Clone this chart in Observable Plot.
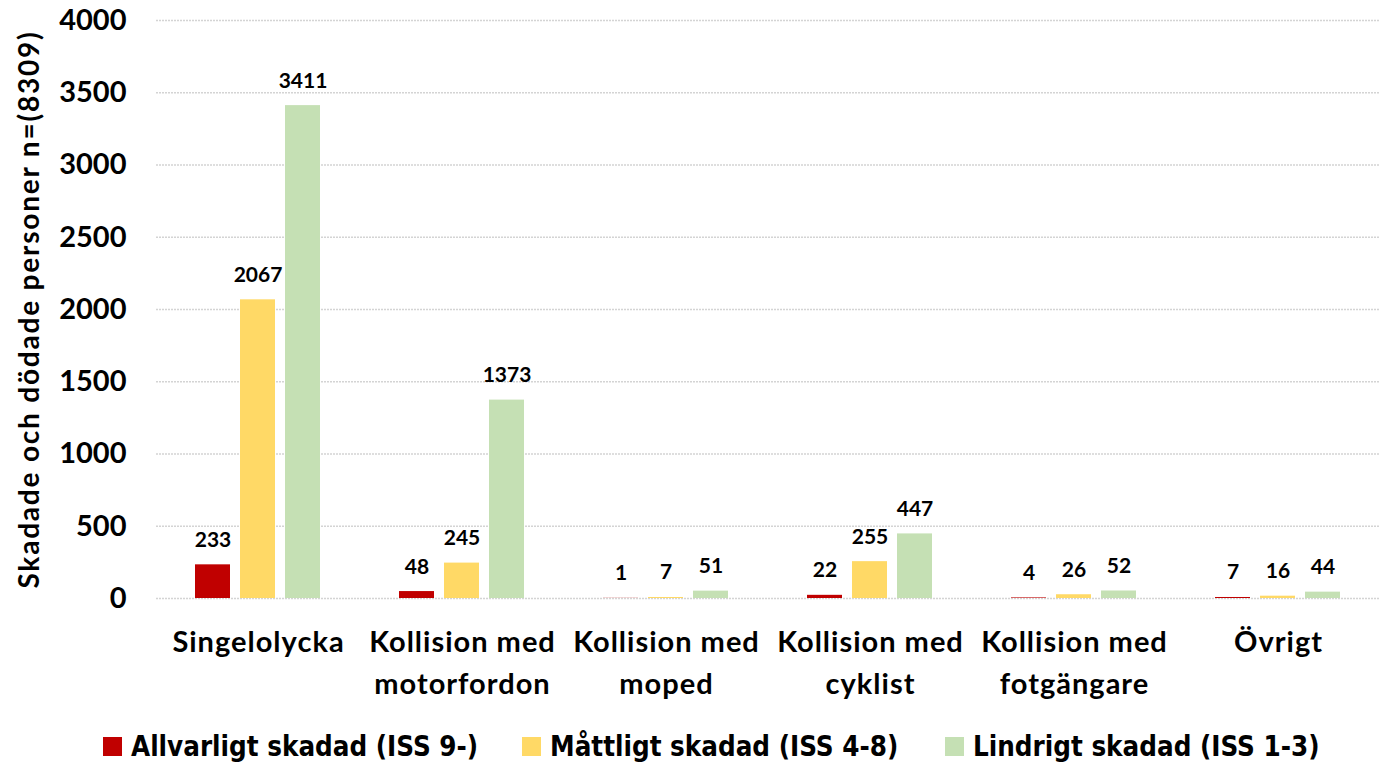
<!DOCTYPE html>
<html>
<head>
<meta charset="utf-8">
<script src="https://cdn.jsdelivr.net/npm/d3@7"></script>
<script src="https://cdn.jsdelivr.net/npm/@observablehq/plot@0.6"></script>
<style>
  body { margin: 0; background: #fff; overflow: hidden; }
  #legend { position: relative; height: 44px;
    font-family: "DejaVu Sans Condensed", "Liberation Sans Narrow", sans-serif; font-weight: bold; font-size: 27.5px; color: #000; }
  .item { position: absolute; top: 10px; display: flex; align-items: center; white-space: nowrap; }
  .sw { width: 19px; height: 19px; margin-right: 9px; display: inline-block; }
  g[aria-label="y-axis label"] text { letter-spacing: 1.8px; }
  g[aria-label="fx-axis tick label"] text { letter-spacing: 1px; }
</style>
</head>
<body>
<div id="chart"></div>
<div id="legend"></div>
<script>
const categories = ["Singelolycka", "Kollision med motorfordon", "Kollision med moped", "Kollision med cyklist", "Kollision med fotgängare", "Övrigt"];
const categoryLabels = ["Singelolycka", "Kollision med\nmotorfordon", "Kollision med\nmoped", "Kollision med\ncyklist", "Kollision med\nfotgängare", "Övrigt"];
const series = ["Allvarligt skadad (ISS 9-)", "Måttligt skadad (ISS 4-8)", "Lindrigt skadad (ISS 1-3)"];
const allvarligt = [233, 48, 1, 22, 4, 7];
const mattligt = [2067, 245, 7, 255, 26, 16];
const lindrigt = [3411, 1373, 51, 447, 52, 44];
const yTicks = [0, 500, 1000, 1500, 2000, 2500, 3000, 3500, 4000];
const colors = ["#c00000", "#ffd966", "#c5e0b4"];
const yLabel = "Skadade och dödade personer n=(8309)";

const valuesBySeries = [allvarligt, mattligt, lindrigt];
const data = [];
categories.forEach((c, i) => series.forEach((s, j) => data.push({category: c, series: s, value: valuesBySeries[j][i]})));
const labelOf = new Map(categories.map((c, i) => [c, categoryLabels[i]]));

const font = "Lato, 'Open Sans', sans-serif";
const chart = Plot.plot({
  width: 1381, height: 720,
  marginTop: 20, marginBottom: 122, marginLeft: 155, marginRight: 0,
  style: {fontFamily: font, fontWeight: "bold", color: "#000", background: "#fff"},
  fx: {domain: categories, padding: 0, label: null},
  x: {domain: series, paddingInner: 0.22, paddingOuter: 0.84, axis: null},
  y: {domain: [0, 4000], label: null},
  color: {domain: series, range: colors},
  marks: [
    Plot.ruleY(yTicks, {stroke: "#d4d4d4", strokeWidth: 1.5, strokeDasharray: "2,1"}),
    Plot.axisY({ticks: yTicks, tickFormat: d => String(d), tickSize: 0, tickPadding: 30, fontSize: 29, fontWeight: "bold", label: null}),
    Plot.axisY({ticks: [], label: yLabel, labelAnchor: "center", labelArrow: "none", labelOffset: 137, fontSize: 28, fontWeight: "bold"}),
    Plot.barY(data, {fx: "category", x: "series", y: "value", fill: "series"}),
    Plot.text(data, {fx: "category", x: "series", y: "value", text: d => String(d.value), lineAnchor: "bottom", dy: -18, fontSize: 21, fontWeight: "bold", fill: "#000"}),
    Plot.axisFx({anchor: "bottom", tickSize: 0, tickPadding: 24, fontSize: 29, fontWeight: "bold", lineHeight: 1.45, tickFormat: d => labelOf.get(d), label: null})
  ]
});
document.getElementById("chart").appendChild(chart);

const legend = document.getElementById("legend");
const legendLeft = [103, 522, 945];
series.forEach((s, i) => {
  const item = document.createElement("div");
  item.className = "item";
  item.style.left = legendLeft[i] + "px";
  const sw = document.createElement("span");
  sw.className = "sw";
  sw.style.background = colors[i];
  const t = document.createElement("span");
  t.textContent = s;
  item.appendChild(sw); item.appendChild(t);
  legend.appendChild(item);
});
</script>
</body>
</html>
